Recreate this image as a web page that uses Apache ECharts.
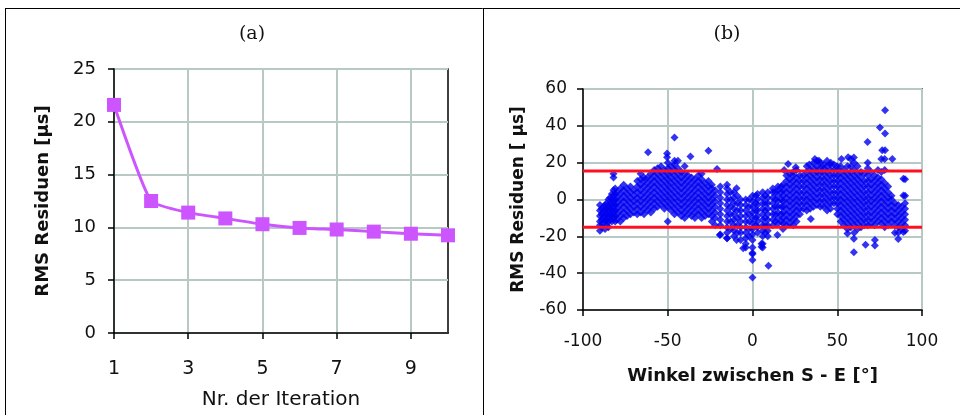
<!DOCTYPE html>
<html>
<head>
<meta charset="utf-8">
<script src="https://cdn.jsdelivr.net/npm/echarts@6/dist/echarts.min.js"></script>
<style>
html,body{margin:0;padding:0;background:#fff;}
#c{width:960px;height:415px;}
</style>
</head>
<body>
<div id="c"></div>
<script>
// ---- Panel (a) data ----
const iterCats = ['1','2','3','4','5','6','7','8','9','10'];
const rmsValues = [21.6, 12.5, 11.4, 10.85, 10.3, 9.95, 9.8, 9.6, 9.4, 9.25];

// ---- Panel (b) data ----
const limitUpper = 15.5;
const limitLower = -15;
const angleCols = [-90,-89,-88,-87,-86,-85,-84,-83,-82,-81,-80,-78,-76,-74,-72,-70,-68,-66,-64,-62,-60,-58,-56,-54,-52,-50,-48,-46,-44,-42,-40,-38,-36,-34,-32,-30,-28,-26,-24,
  -22,-19,-15,-11,-7,-4,0,3,6,9,12,15,18,
  20,22,24,26,28,30,32,34,36,38,40,42,44,46,48,50,52,54,56,58,60,62,64,66,68,70,72,74,76,78,80,82,84,86,88,90,
  -13,-9,-2,2,7.5,13.5,17];
const residCols = [
  [-17,-14,-12,-9,-6,-3],
  [-15,-11,-8,-5],
  [-13,-10,-7,-4],
  [-16,-12,-9,-6,-3],
  [-14,-11,-8,-5,-2],
  [-15,-12,-9,-6,-4,0],
  [-11,-8,-5,-2,1],
  [-12,-9,-6,-3,0,3],
  [-10,-7,-4,-1,2,5,12,14],
  [-12,-9,-6,-3,0,3,6],
  [-11,-8,-5,-2,1,4],
  [-12,-9,-6,-3,0,3,6],
  [-10,-7,-4,-1,2,5,8],
  [-9,-6,-3,0,3,6],
  [-8,-5,-2,1,4,7],
  [-7,-4,-1,2,5],
  [-8,-5,-2,1,4,7,10],
  [-7,-4,-1,2,5,8,11,14],
  [-8,-5,-2,1,4,7,10,12],
  [-6,-3,0,3,6,9,12],
  [-7,-4,-1,2,5,8,11,14],
  [-5,-2,1,4,7,10,13,16],
  [-4,-1,2,5,8,11,14,17],
  [-3,0,3,6,9,12,15,18],
  [-5,-2,1,4,7,10,13,16],
  [-12,-4,-1,2,5,8,11,14,17,20],
  [-6,-3,0,3,6,9,12,15,18],
  [-8,-5,-2,1,4,7,10,13,16,19,21],
  [-7,-4,-1,2,5,8,11,14,17,21],
  [-9,-6,-3,0,3,6,9,12,15],
  [-10,-7,-4,-1,2,5,8,11,14,18],
  [-8,-5,-2,1,4,7,10,13],
  [-9,-6,-3,0,3,6,9,12],
  [-10,-7,-4,-1,2,5,8,11],
  [-8,-5,-2,1,4,7,10,13],
  [-10,-7,-4,-1,2,5,8,11,14],
  [-9,-6,-3,0,3,6,9],
  [-8,-5,-2,1,4,7,10],
  [-12,-9,-6,-3,0,3,6,8],
  [-14,-10,-7,-4,-1,2,5],
  [-19,-14,-11,-8,-5,-2,1,4,7],
  [-21,-18,-15,-12,-9,-6,-3,0,3,6,8],
  [-20,-17,-14,-11,-8,-5,-2,1,4],
  [-22,-18,-15,-12,-9,-6,-3,0],
  [-26,-24,-21,-18,-15,-12,-9,-6,-3,0],
  [-29,-26,-22,-19,-16,-13,-10,-7,-4,-1,2],
  [-18,-15,-12,-9,-6,-3,0,3],
  [-26,-24,-20,-17,-14,-11,-8,-5,-2,1,4],
  [-20,-17,-14,-11,-8,-5,-2,1,4],
  [-14,-11,-8,-5,-2,1,4,6],
  [-13,-10,-7,-4,-1,2,5,7],
  [-16,-13,-10,-7,-4,-1,2,5,8],
  [-14,-11,-8,-5,-2,1,4,7,10,13],
  [-13,-10,-7,-4,-1,2,5,8,11,14],
  [-14,-11,-8,-5,-2,1,4,7,10,13,15],
  [-12,-9,-6,-3,0,3,6,9,12,16],
  [-8,-5,-2,1,4,7,10,13],
  [-5,-2,1,4,7,10,13],
  [-6,-3,0,3,6,9,12,15,18],
  [-5,-2,1,4,7,10,13,16],
  [-4,-1,2,5,8,11,14,17,20],
  [-3,0,3,6,9,12,15,18,21],
  [-4,-1,2,5,8,11,14,17,20],
  [-4,-1,2,5,8,11,14,17,19],
  [-6,-3,0,3,6,9,12,15,18,21],
  [-5,-2,1,4,7,10,13,16,19],
  [-2,1,4,7,10,13,16,19],
  [-8,-5,-2,1,4,7,10,13,16,18],
  [-12,-9,-6,-3,0,3,6,9,12,15,18],
  [-14,-11,-8,-5,-2,1,4,7,10,13,16],
  [-16,-13,-10,-7,-4,-1,2,5,8,11,14,18],
  [-15,-12,-9,-6,-3,0,3,6,9,12,15,18,22],
  [-18,-14,-11,-8,-5,-2,1,4,7,10,13,16,20],
  [-16,-13,-10,-7,-4,-1,2,5,8,11,14,18],
  [-15,-12,-9,-6,-3,0,3,6,9,12,15],
  [-14,-11,-8,-5,-2,1,4,7,10,14],
  [-14,-11,-8,-5,-2,1,4,7,10,13,17,20],
  [-13,-10,-7,-4,-1,2,5,8,11,15],
  [-14,-11,-8,-5,-2,1,4,7,10,13],
  [-12,-9,-6,-3,0,3,6,9,12,16],
  [-13,-10,-7,-4,-1,2,5,8,11,15,22],
  [-15,-12,-9,-6,-3,0,3,6,9,16,22],
  [-14,-11,-8,-5,-2,1,4,7],
  [-12,-9,-6,-3,0,2],
  [-18,-14,-11,-8,-5,-2],
  [-15,-12,-9,-6,-3],
  [-16,-13,-10,-7,-4],
  [-17,-14,-11,-8,-5,-2,2,11],
  [-16,-12,-8,-4,0,4],
  [-18,-14,-10,-6,-2,2],
  [-20,-16,-12,-8,-4,0],
  [-14,-10,-6,-2,2],
  [-18,-14,-10,-6,-2,2],
  [-12,-8,-4,0,4],
  [-12,-8,-4,0,4,7]
];
const outlierX = [-61.6,-50.4,-50.4,-46,-36.6,-26,-20.9,-19.3,-15,-9.4,-9.4,-5.5,0,0,0,5.3,5.3,9.4,14.7,18.7,21,25.5,34.4,33.5,36.8,39.2,46.2,52.5,56.4,59.8,56,59.8,59.8,66.7,67.9,72.2,72.2,75.2,78.2,78.2,76.5,78.2,82.5,86,86,89,89,89];
const outlierY = [25.6,25,23,33.6,23.3,26.5,16.6,-19.3,-21,6.1,-22,-26.5,-42.3,-32.9,-29.6,-25.6,-24,-36,-19.3,16,19.3,17.5,-10.6,19,22,21,20,22,23,22.8,-18.4,-21.3,-28.7,-24.6,31.2,-22,-25,39.1,48.5,35.8,26.7,26.7,22,-18,-21.4,11.2,2.2,-17.6];

const scatterPts = [];
angleCols.forEach((x, i) => residCols[i].forEach(y => scatterPts.push([x, y])));
outlierX.forEach((x, i) => scatterPts.push([x, outlierY[i]]));

const FONT = 'DejaVu Sans';
const TXT = '#111';
const GRIDC = '#b8c8c4';

const chart = echarts.init(document.getElementById('c'), null, {renderer: 'canvas'});
chart.setOption({
  animation: false,
  backgroundColor: '#fff',
  title: [
    {text: '(a)', left: 247, top: 20, textAlign: 'center',
     textStyle: {fontFamily: 'DejaVu Serif', fontWeight: 'normal', fontSize: 19, color: TXT}},
    {text: '(b)', left: 722, top: 20, textAlign: 'center',
     textStyle: {fontFamily: 'DejaVu Serif', fontWeight: 'normal', fontSize: 19, color: TXT}}
  ],
  graphic: [
    {type: 'line', shape: {x1: 5, y1: 8.5, x2: 960, y2: 8.5}, style: {stroke: '#000', lineWidth: 1}},
    {type: 'line', shape: {x1: 5.5, y1: 8, x2: 5.5, y2: 415}, style: {stroke: '#000', lineWidth: 1}},
    {type: 'line', shape: {x1: 483.5, y1: 8, x2: 483.5, y2: 415}, style: {stroke: '#000', lineWidth: 1}}
  ],
  grid: [
    {left: 114, top: 69, width: 334, height: 268, show: true, borderColor: '#000', borderWidth: 1.5, backgroundColor: '#fff'},
    {left: 583, top: 89, width: 339, height: 221, show: true, borderColor: '#000', borderWidth: 1.5, backgroundColor: '#fff'}
  ],
  xAxis: [
    {gridIndex: 0, type: 'category', data: iterCats, boundaryGap: false,
     name: 'Nr. der Iteration', nameLocation: 'middle', nameGap: 57,
     nameTextStyle: {fontFamily: FONT, fontSize: 20, color: TXT},
     axisLine: {lineStyle: {color: '#000', width: 1.5}},
     axisTick: {show: true, interval: 1, length: 6, lineStyle: {color: '#000', width: 1.5}},
     axisLabel: {interval: 1, margin: 27, fontFamily: FONT, fontSize: 19, color: TXT},
     splitLine: {show: true, interval: 1, lineStyle: {color: GRIDC, width: 2}}},
    {gridIndex: 1, type: 'value', min: -100, max: 100, interval: 50,
     name: 'Winkel zwischen S - E [°]', nameLocation: 'middle', nameGap: 57,
     nameTextStyle: {fontFamily: FONT, fontSize: 18, fontWeight: 'bold', color: TXT},
     axisLine: {onZero: false, lineStyle: {color: '#000', width: 1.5}},
     axisTick: {show: true, length: 6, lineStyle: {color: '#000', width: 1.5}},
     axisLabel: {margin: 23, fontFamily: FONT, fontSize: 17, color: TXT},
     splitLine: {show: true, lineStyle: {color: GRIDC, width: 2}}}
  ],
  yAxis: [
    {gridIndex: 0, type: 'value', min: 0, max: 25, interval: 5,
     name: 'RMS Residuen [µs]', nameLocation: 'middle', nameGap: 62,
     nameTextStyle: {fontFamily: FONT, fontSize: 18, fontWeight: 'bold', color: TXT},
     axisLine: {show: true, lineStyle: {color: '#000', width: 1.5}},
     axisTick: {show: true, length: 6, lineStyle: {color: '#000', width: 1.5}},
     axisLabel: {margin: 18, fontFamily: FONT, fontSize: 18, color: TXT},
     splitLine: {show: true, lineStyle: {color: GRIDC, width: 2}}},
    {gridIndex: 1, type: 'value', min: -60, max: 60, interval: 20,
     name: 'RMS Residuen [ µs]', nameLocation: 'middle', nameGap: 56,
     nameTextStyle: {fontFamily: FONT, fontSize: 17, fontWeight: 'bold', color: TXT},
     axisLine: {show: true, onZero: false, lineStyle: {color: '#000', width: 1.5}},
     axisTick: {show: true, length: 6, lineStyle: {color: '#000', width: 1.5}},
     axisLabel: {margin: 16, fontFamily: FONT, fontSize: 17, color: TXT},
     splitLine: {show: true, lineStyle: {color: GRIDC, width: 2}}}
  ],
  series: [
    {type: 'line', xAxisIndex: 0, yAxisIndex: 0, data: rmsValues, smooth: 0.15,
     symbol: 'rect', symbolSize: 14, clip: false,
     lineStyle: {color: '#cc55ff', width: 3}, itemStyle: {color: '#cc55ff'}},
    {type: 'scatter', xAxisIndex: 1, yAxisIndex: 1, data: scatterPts,
     symbol: 'diamond', symbolSize: 8, itemStyle: {color: '#0000f0'}, z: 3},
    {type: 'line', xAxisIndex: 1, yAxisIndex: 1, data: [[-100, limitUpper], [100, limitUpper]],
     symbol: 'none', lineStyle: {color: '#ff1020', width: 3}, z: 4},
    {type: 'line', xAxisIndex: 1, yAxisIndex: 1, data: [[-100, limitLower], [100, limitLower]],
     symbol: 'none', lineStyle: {color: '#ff1020', width: 3}, z: 4}
  ]
});
</script>
</body>
</html>
